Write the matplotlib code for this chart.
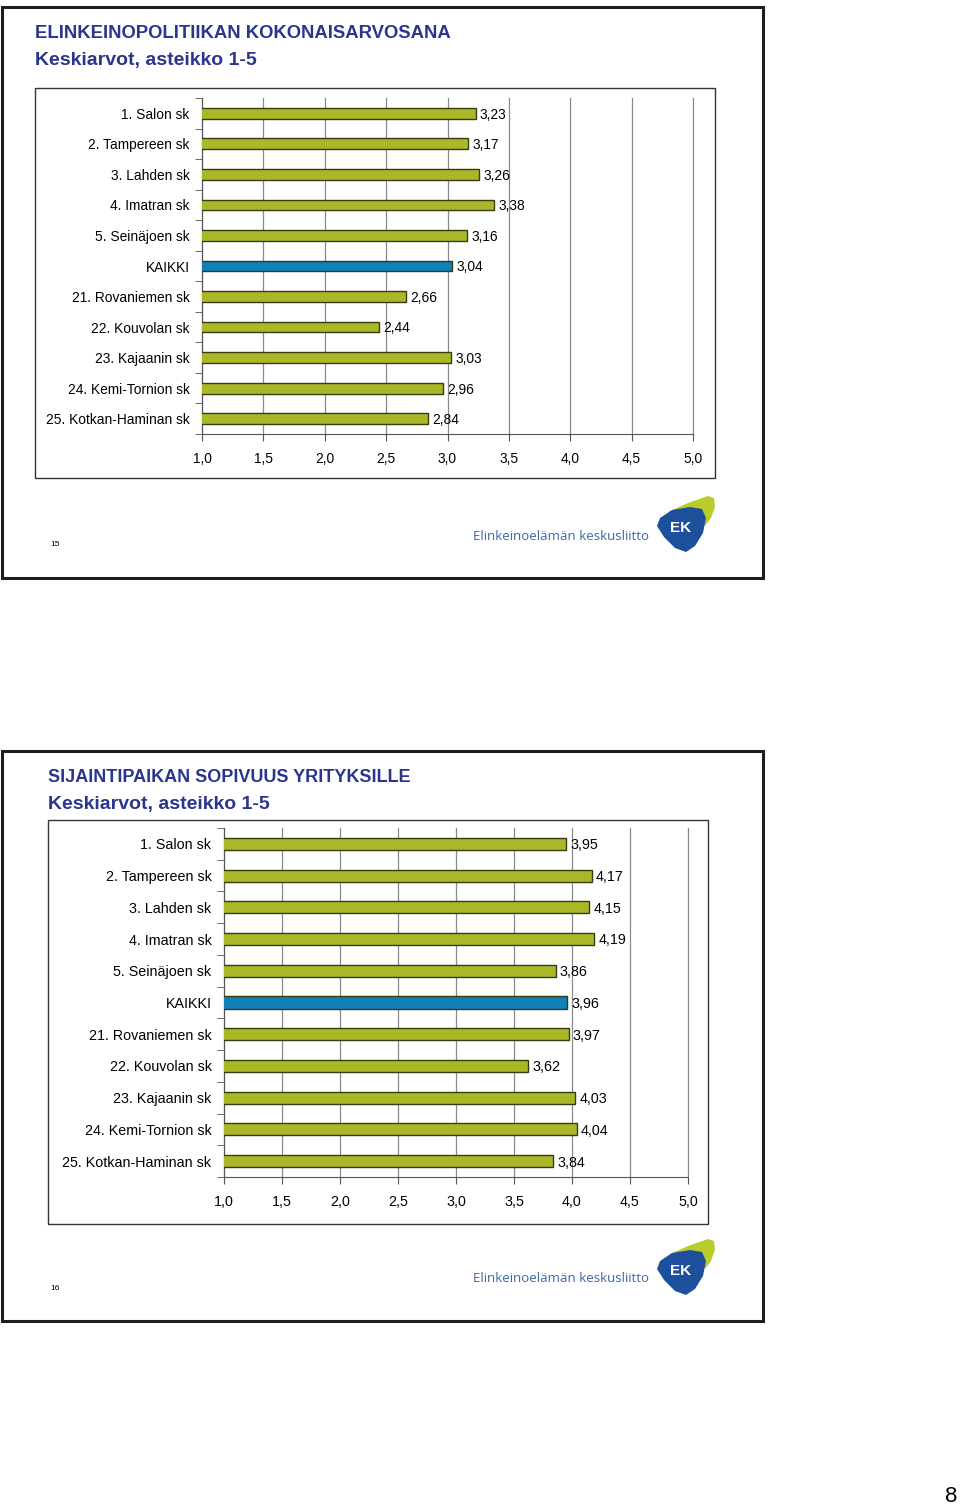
import matplotlib
matplotlib.use("Agg")
import matplotlib.pyplot as plt
from matplotlib.patches import Rectangle, Polygon
import numpy as np

plt.rcParams['font.family'] = ['Liberation Sans', 'DejaVu Sans']

categories = ["1. Salon sk", "2. Tampereen sk", "3. Lahden sk", "4. Imatran sk",
              "5. Seinäjoen sk", "KAIKKI", "21. Rovaniemen sk", "22. Kouvolan sk",
              "23. Kajaanin sk", "24. Kemi-Tornion sk", "25. Kotkan-Haminan sk"]
values_1 = [3.23, 3.17, 3.26, 3.38, 3.16, 3.04, 2.66, 2.44, 3.03, 2.96, 2.84]
values_2 = [3.95, 4.17, 4.15, 4.19, 3.86, 3.96, 3.97, 3.62, 4.03, 4.04, 3.84]
xticks = [1.0, 1.5, 2.0, 2.5, 3.0, 3.5, 4.0, 4.5, 5.0]
xtick_labels = ["1,0", "1,5", "2,0", "2,5", "3,0", "3,5", "4,0", "4,5", "5,0"]
title_1 = "ELINKEINOPOLITIIKAN KOKONAISARVOSANA"
title_2 = "SIJAINTIPAIKAN SOPIVUUS YRITYKSILLE"
subtitle = "Keskiarvot, asteikko 1-5"
slide_numbers = ["15", "16"]
logo_text = "Elinkeinoelämän keskusliitto"

W, H = 960, 1506
fig = plt.figure(figsize=(W / 100, H / 100), dpi=100)
fig.patch.set_facecolor("white")

NAVY = "#2a3590"
OLIVE = "#aab828"
BLUE = "#1080b8"
EDGE = "#3a3a12"


def px_axes(x0, y0, x1, y1, **kw):
    return fig.add_axes([x0 / W, 1 - y1 / H, (x1 - x0) / W, (y1 - y0) / H], **kw)


def frame(x0, y0, x1, y1, lw, color):
    fig.add_artist(Rectangle((x0 / W, 1 - y1 / H), (x1 - x0) / W, (y1 - y0) / H,
                             transform=fig.transFigure, fill=False, lw=lw,
                             edgecolor=color, zorder=5))


def ftext(x, y, s, **kw):
    fig.text(x / W, 1 - y / H, s, **kw)


def logo(dy):
    ftext(561, 536 + dy, logo_text, color="#3a68a8", fontsize=9.5,
          ha="center", va="center", family=["Open Sans", "DejaVu Sans"])
    ax = px_axes(650, 490 + dy, 720, 560 + dy)
    ax.set_xlim(650, 720)
    ax.set_ylim(560, 490)
    ax.axis("off")
    ax.add_patch(Polygon([[668, 512], [688, 503], [708, 496], [714, 498], [715, 507],
                          [711, 518], [705, 526], [701, 514], [686, 509]],
                         closed=True, facecolor="#b9cc2c", edgecolor="none"))
    ax.add_patch(Polygon([[660, 518], [672, 510], [690, 507], [702, 509], [706, 518],
                          [703, 533], [695, 546], [686, 552], [675, 548], [664, 537],
                          [657, 526]],
                         closed=True, facecolor="#1d4f9c", edgecolor="none"))
    ax.text(681, 528, "EK", color="white", fontsize=11, fontweight="bold",
            ha="center", va="center")


def chart(values, box, plot, title, tx, ty, title_size, label_size, bar_h, slide_num,
          sn_xy, dy, ypad, xpad):
    ftext(tx, ty, title, color=NAVY, fontsize=title_size, fontweight="bold", va="center")
    ftext(tx, ty + 27, subtitle, color=NAVY, fontsize=14, fontweight="bold", va="center")
    frame(*box, lw=1.0, color="#333333")
    ax = px_axes(*plot)
    n = len(values)
    y = np.arange(n)
    colors = [BLUE if c == "KAIKKI" else OLIVE for c in categories]
    ax.barh(y, values, height=bar_h, color=colors, edgecolor=EDGE, linewidth=1.0, zorder=3)
    ax.set_xlim(1, 5)
    ax.set_ylim(n - 0.5, -0.5)
    ax.set_xticks(xticks)
    ax.set_xticklabels(xtick_labels, fontsize=label_size)
    ax.set_yticks(y)
    ax.set_yticklabels(categories, fontsize=label_size)
    ax.set_yticks(np.arange(n + 1) - 0.5, minor=True)
    ax.tick_params(axis="y", which="major", length=0, pad=ypad)
    ax.tick_params(axis="y", which="minor", length=5, color="#555555", direction="out")
    ax.tick_params(axis="x", which="major", length=5, color="#555555", direction="out", pad=xpad)
    ax.grid(axis="x", color="#8a8a8a", lw=0.9, zorder=0)
    for gl in ax.get_xgridlines():
        gl.set_clip_on(False)
    for s in ["top", "right"]:
        ax.spines[s].set_visible(False)
    ax.spines["left"].set_color("#555555")
    ax.spines["bottom"].set_color("#555555")
    for yi, v in zip(y, values):
        ax.annotate(f"{v:.2f}".replace(".", ","), (v, yi), xytext=(3, -1),
                    textcoords="offset points", va="center", ha="left",
                    fontsize=label_size)
    ftext(sn_xy[0], sn_xy[1], slide_num, fontsize=6, va="center")
    logo(dy)


# slide frames
frame(2, 7, 763, 578, lw=2.2, color="#1e1e1e")
frame(2, 751, 763, 1321, lw=2.2, color="#1e1e1e")

chart(values_1, (35, 88, 715, 478), (202, 98, 693, 434), title_1, 35, 34, 13.3, 9.9,
      0.35, slide_numbers[0], (50, 545), 0, 9, 8)
chart(values_2, (48, 820, 708, 1224), (224, 828, 688, 1177), title_2, 48, 777, 13.0, 10.3,
      0.38, slide_numbers[1], (50, 1288), 743, 9, 8)

ftext(951, 1496, "8", fontsize=16, ha="center", va="center")

fig.savefig("out.png", dpi=100, facecolor="white")
